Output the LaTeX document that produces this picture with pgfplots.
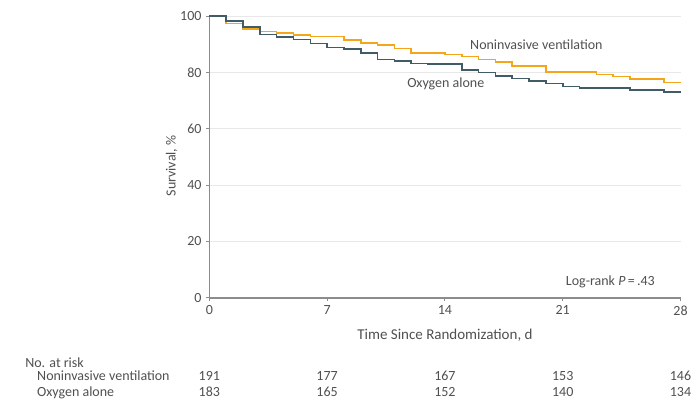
\documentclass[border=0pt]{standalone}
\usepackage{fontspec}
\setmainfont{Carlito}
\usepackage{pgfplots}
\pgfplotsset{compat=1.18}
\definecolor{niv}{RGB}{245,165,25}
\definecolor{oxy}{RGB}{65,92,102}
\definecolor{axgray}{RGB}{140,140,140}
\definecolor{txtgray}{RGB}{80,80,80}
\definecolor{gridgray}{RGB}{232,232,232}
\begin{document}
\fontsize{14bp}{16bp}\selectfont
\begin{tikzpicture}
\begin{axis}[
  scale only axis, width=471.4bp, height=281.8bp,
  xmin=0, xmax=28, ymin=0, ymax=100,
  xtick={0,7,14,21,28}, ytick={0,20,40,60,80,100},
  axis x line=bottom, axis y line=left,
  axis line style={-, axgray, line width=1.6bp},
  tick style={axgray, line width=1bp},
  tick align=outside, major tick length=3bp,
  ymajorgrids, grid style={gridgray, line width=0.8bp},
  ticklabel style={text=txtgray, font=\fontsize{14bp}{16bp}\selectfont},
  /pgf/number format/assume math mode=true,
  xlabel={Time Since Randomization, d},
  ylabel={Survival, \%},
  xlabel style={text=txtgray, font=\fontsize{15bp}{16bp}\selectfont, at={(axis description cs:0.5,-0.132)}, anchor=center},
  ylabel style={text=txtgray, at={(axis description cs:-0.080,0.468)}, anchor=center, rotate=0},
  clip=false,
  every node/.append style={inner sep=0pt},
]
% page extent, in axis units
\path (axis cs:-12.44,-36.97) rectangle (axis cs:28.86,105.7);
\addplot[const plot, niv, line width=1.6bp] coordinates {
(0,100) (1,97.4) (2,95.5) (3,94.5) (4,93.9) (5,93.3) (6,92.8) (8,91.6)
(9,90.4) (10,89.8) (11,88.5) (12,86.9) (14,86.3) (15,85.7) (16,84.6)
(17,83.6) (18,82.3) (20,80.2) (23,79.2) (24,78.6) (25,77.6) (27,76.4) (28,76.4)};
\addplot[const plot, oxy, line width=1.6bp] coordinates {
(0,100) (1,98.2) (2,96.2) (3,93.5) (4,92.6) (5,91.7) (6,90.3) (7,88.8)
(8,88.2) (9,86.8) (10,84.6) (11,84.0) (12,83.2) (13,82.9) (15,80.9)
(16,79.9) (17,78.8) (18,77.9) (19,76.9) (20,76.1) (21,75.0) (22,74.4)
(25,73.7) (27,73.0) (28,73.0)};
\node[txtgray, inner sep=0pt, anchor=west] at (axis cs:15.49,89.7) {Noninvasive ventilation};
\node[txtgray, inner sep=0pt, anchor=west] at (axis cs:11.75,75.8) {Oxygen alone};
\node[txtgray, inner sep=0pt, anchor=west] at (axis cs:21.18,5.7) {Log-rank \textit{P}\,=\,.43};
\node[txtgray, inner sep=0pt, anchor=base west] at (axis cs:-10.95,-24.6) {No. at risk};
\node[txtgray, inner sep=0pt, anchor=base west] at (axis cs:-10.24,-29.4) {Noninvasive ventilation};
\node[txtgray, inner sep=0pt, anchor=base west] at (axis cs:-10.24,-35.1) {Oxygen alone};
\node[txtgray, inner sep=0pt, anchor=base] at (axis cs:0,-29.4) {191};
\node[txtgray, inner sep=0pt, anchor=base] at (axis cs:7,-29.4) {177};
\node[txtgray, inner sep=0pt, anchor=base] at (axis cs:14,-29.4) {167};
\node[txtgray, inner sep=0pt, anchor=base] at (axis cs:21,-29.4) {153};
\node[txtgray, inner sep=0pt, anchor=base] at (axis cs:28,-29.4) {146};
\node[txtgray, inner sep=0pt, anchor=base] at (axis cs:0,-35.1) {183};
\node[txtgray, inner sep=0pt, anchor=base] at (axis cs:7,-35.1) {165};
\node[txtgray, inner sep=0pt, anchor=base] at (axis cs:14,-35.1) {152};
\node[txtgray, inner sep=0pt, anchor=base] at (axis cs:21,-35.1) {140};
\node[txtgray, inner sep=0pt, anchor=base] at (axis cs:28,-35.1) {134};
\end{axis}
\end{tikzpicture}
\end{document}
